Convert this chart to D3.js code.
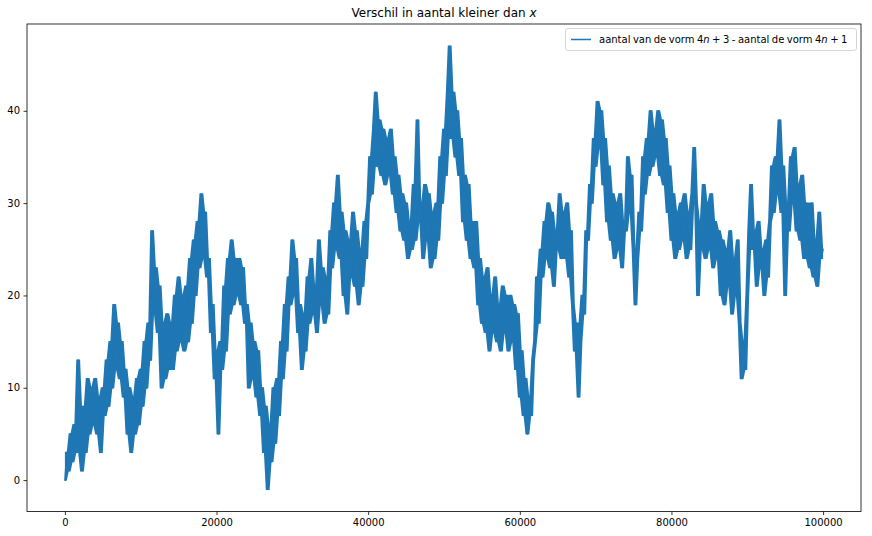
<!DOCTYPE html>
<html><head><meta charset="utf-8">
<script src="https://cdn.jsdelivr.net/npm/d3@7"></script>
<style>body{margin:0;background:#fff;} svg{display:block;font-family:"DejaVu Sans",sans-serif;}</style>
</head><body>
<svg id="c" width="872" height="536"></svg>
<script>
// x step between successive samples
const xStep = 250;
// values of the difference, one every 250
const diffValues = [
0,3,1,5, 2,6,3,13, 4,1,8,3, 11,5,10,6, 11,5,9,3,
10,7,13,8, 15,10,19,12, 17,11,15,9, 12,5,10,3, 9,5,11,6,
12,8,15,10, 17,13,27,18, 23,16,21,10, 17,11,18,12, 17,12,20,14,
22,15,20,14, 21,15,24,17, 26,20,28,23, 31,24,29,22, 24,16,19,11,
14,5,15,12, 21,14,24,18, 26,19,24,20, 24,19,23,17, 19,10,17,11,
15,9,14,7, 10,3,8,-1, 6,2,10,4, 11,7,15,11, 19,14,22,19,
26,20,24,16, 19,12,18,14, 22,17,24,18, 21,16,26,19, 23,17,22,18,
27,23,30,25, 33,24,29,20, 27,18,26,22, 29,21,27,19, 25,21,28,24,
30,35,31,38, 42,34,39,33, 38,32,37,33, 38,31,35,29, 33,27,31,26,
30,24,28,25, 32,26,39,28, 30,24,32,26, 31,23,29,24, 30,26,35,30,
38,33,42,47, 37,42,35,40, 33,37,28,33, 26,32,24,28, 23,28,19,24,
17,22,16,23, 14,20,16,22, 15,19,14,21, 16,20,14,20, 15,19,12,18,
9,14,7,11, 5,9,7,13, 15,22,17,25, 22,28,24,30, 23,29,21,27,
25,31,24,29, 24,30,22,27, 19,14,17,9, 15,20,18,27, 26,32,30,37,
34,41,36,40, 32,37,28,34, 26,31,24,30, 25,31,23,28, 27,35,29,33,
25,19,24,29, 27,35,31,37, 33,40,34,38, 35,40,33,39, 32,37,29,34,
26,31,24,29, 25,30,26,31, 24,29,25,31, 36,30,20,25, 28,32,24,30,
25,31,23,28, 24,27,20,26, 19,25,21,27, 18,24,20,26, 17,11,15,12,
20,27,32,25, 27,21,28,23, 25,20,26,22, 28,34,29,35, 31,39,29,34,
20,30,27,35, 30,36,27,32, 26,33,24,30, 27,23,30,22, 26,21,29,24,
25
];
const xTicks = [0, 20000, 40000, 60000, 80000, 100000];
const yTicks = [0, 10, 20, 30, 40];
const titleText = "Verschil in aantal kleiner dan ";
const titleVar = "x";

const data = diffValues.map((v, i) => ({x: i * xStep, y: v}));

const svg = d3.select("#c");
const L = 27, R = 861, T = 24, B = 511.5;

const xExt = d3.extent(data, d => d.x), yExt = d3.extent(data, d => d.y);
const xPad = (xExt[1] - xExt[0]) * 0.05, yPad = (yExt[1] - yExt[0]) * 0.05;
const x = d3.scaleLinear().domain([xExt[0] - xPad, xExt[1] + xPad]).range([L, R]);
const y = d3.scaleLinear().domain([yExt[0] - yPad, yExt[1] + yPad]).range([B, T]);

// the dense oscillation of the line appears as a solid band: fill between neighbouring lows/highs
const band = data.map((d, i) => {
  const nb = data.slice(Math.max(0, i - 1), Math.min(data.length, i + 2)).map(e => e.y);
  return {x: d.x, lo: d3.min(nb), hi: d3.max(nb)};
});
const plot = svg.append("g");
plot.append("path").datum(band)
  .attr("fill", "#1f77b4").attr("stroke", "none")
  .attr("d", d3.area().x(d => x(d.x)).y0(d => y(d.lo) + 0.6).y1(d => y(d.hi) - 0.6));
plot.append("path").datum(data)
  .attr("fill", "none").attr("stroke", "#1f77b4").attr("stroke-width", 1.5)
  .attr("stroke-linejoin", "round").attr("stroke-linecap", "square")
  .attr("d", d3.line().x(d => x(d.x)).y(d => y(d.y)));

const xAxis = svg.append("g").attr("transform", `translate(0,${B})`)
  .call(d3.axisBottom(x).tickValues(xTicks).tickFormat(d3.format("d")).tickSize(3.5).tickPadding(3.5));
const yAxis = svg.append("g").attr("transform", `translate(${L},0)`)
  .call(d3.axisLeft(y).tickValues(yTicks).tickFormat(d3.format("d")).tickSize(3.5).tickPadding(3.5));
[xAxis, yAxis].forEach(a => {
  a.select(".domain").remove();
  a.selectAll("line").attr("stroke", "#000").attr("stroke-width", 0.8);
  a.selectAll("text").attr("fill", "#000").style("font-size", "10px").style("font-family", "DejaVu Sans");
});

svg.append("rect").attr("x", L).attr("y", T).attr("width", R - L).attr("height", B - T)
  .attr("fill", "none").attr("stroke", "#000").attr("stroke-width", 0.8);

const t = svg.append("text").attr("x", (L + R) / 2).attr("y", 17).attr("text-anchor", "middle")
  .style("font-size", "12px").attr("fill", "#000");
t.append("tspan").text(titleText);
t.append("tspan").style("font-style", "italic").text(titleVar);

// legend
const lg = svg.append("g");
lg.append("rect").attr("x", 565.5).attr("y", 28.5).attr("width", 291).attr("height", 22).attr("rx", 2.5)
  .attr("fill", "#fff").attr("fill-opacity", 0.8).attr("stroke", "#ccc").attr("stroke-width", 0.8);
lg.append("line").attr("x1", 571).attr("x2", 591).attr("y1", 39.5).attr("y2", 39.5)
  .attr("stroke", "#1f77b4").attr("stroke-width", 1.5);
const lt = lg.append("text").attr("x", 599).attr("y", 43).style("font-size", "10px")
  .style("word-spacing", "-0.7px").attr("fill", "#000");
lt.append("tspan").text("aantal van de vorm 4");
lt.append("tspan").style("font-style", "italic").text("n");
lt.append("tspan").text(" + 3 - aantal de vorm 4");
lt.append("tspan").style("font-style", "italic").text("n");
lt.append("tspan").text(" + 1");
</script>
</body></html>
